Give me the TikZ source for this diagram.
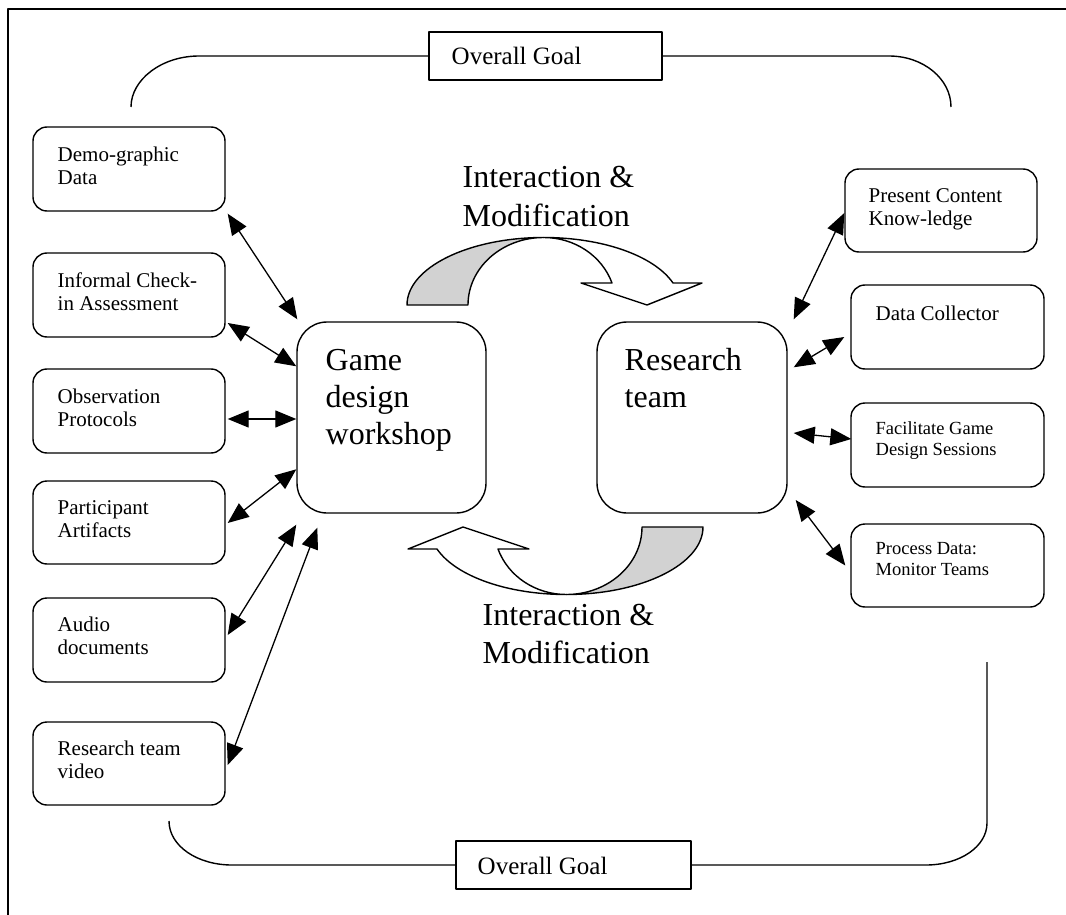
\documentclass[tikz,border=0pt]{standalone}
\usepackage{fontspec}
\setmainfont{Liberation Serif}
\usetikzlibrary{arrows.meta,calc}
\newcommand\twoln[2]{\vtop{\hbox{#1}\hbox{#2}}}
\newcommand\threeln[3]{\vtop{\hbox{#1}\hbox{#2}\hbox{#3}}}
\newcommand\myCurvedArrow{%
  \filldraw[fill=gray!35] (407,305) .. controls (407,267.9) and (468.2,237.5) .. (543.7,237.5)
     .. controls (501.9,237.5) and (468,267.7) .. (468,305) -- cycle;
  \filldraw[fill=white] (543.7,237.5) .. controls (602.2,237.5) and (654,255.5) .. (673,283)
     -- (702,283) -- (647,305) -- (581,283) -- (612,283)
     .. controls (601.9,255.7) and (574.6,237.5) .. (543.7,237.5) -- cycle;
}
\begin{document}
\begin{tikzpicture}[x=1pt,y=-1pt,line width=1.4pt,line join=round,
  sbox/.style={draw, rounded corners=14pt, minimum width=192pt, minimum height=84pt, inner sep=0pt},
  rbox/.style={draw, rounded corners=14pt, minimum width=193pt, minimum height=84pt, inner sep=0pt},
  mbox/.style={draw, rounded corners=30pt, minimum width=190pt, minimum height=191pt, inner sep=0pt},
  gbox/.style={draw, minimum width=234pt, minimum height=48pt, inner sep=0pt},
  tsmall/.style={anchor=base west, inner sep=0pt, font=\fontsize{21}{23.5}\selectfont},
  tsm2/.style={anchor=base west, inner sep=0pt, font=\fontsize{18.5}{21}\selectfont},
  tbig/.style={anchor=base west, inner sep=0pt, font=\fontsize{32}{37}\selectfont},
  tint/.style={anchor=base west, inner sep=0pt, font=\fontsize{32}{38.5}\selectfont},
  tgoal/.style={anchor=base west, inner sep=0pt, font=\fontsize{25}{30}\selectfont},
  biarr/.style={{Triangle[length=21pt,width=17pt]}-{Triangle[length=21pt,width=17pt]}, line width=1.3pt},
  bracket/.style={line width=1.4pt}]
\useasboundingbox (0,0) rectangle (1066,915);
% page frame
\draw[line width=2pt] (8,915) -- (8,9) -- (1066,9);

% left boxes
\node[sbox] (demo)  at (129,169) {};
\node[sbox] (inf)   at (129,295) {};
\node[sbox] (obs)   at (129,411) {};
\node[sbox, minimum height=83pt] (part)  at (129,522.5) {};
\node[sbox] (audio) at (129,640) {};
\node[sbox, minimum height=83pt] (video) at (129,763.5) {};
\node[tsmall] (demo-t)  at (57,161) {\twoln{Demo-graphic}{Data}};
\node[tsmall] (inf-t)   at (57,287) {\twoln{Informal Check-}{in Assessment}};
\node[tsmall] (obs-t)   at (57,403) {\twoln{Observation}{Protocols}};
\node[tsmall] (part-t)  at (57,514) {\twoln{Participant}{Artifacts}};
\node[tsmall] (audio-t) at (57,631) {\twoln{Audio}{documents}};
\node[tsmall] (video-t) at (57,755) {\twoln{Research team}{video}};

% right boxes
\node[rbox, minimum width=192pt, minimum height=83pt] (present) at (941,210.5) {};
\node[rbox] (collector) at (947.5,327) {};
\node[rbox] (facil)     at (947.5,445) {};
\node[rbox, minimum height=83pt] (process) at (947.5,565.5) {};
\node[tsmall] (present-t) at (868,202) {\twoln{Present Content}{Know-ledge}};
\node[tsmall] (collector-t) at (875,320) {Data Collector};
\node[tsm2] (facil-t) at (875,434) {\twoln{Facilitate Game}{Design Sessions}};
\node[tsm2] (process-t) at (875,554) {\twoln{Process Data:}{Monitor Teams}};

% main boxes
\node[mbox, minimum width=189pt] (game) at (391.5,417.5) {};
\node[mbox] (rt) at (692,417.5) {};
\node[tbig] (game-t) at (325,370) {\threeln{Game}{design}{workshop}};
\node[tbig] (rt-t) at (624,370) {\twoln{Research}{team}};

% goal boxes
\node[gbox, minimum width=233pt] (gtop) at (545.5,56) {};
\node[gbox, minimum width=235pt] (gbot) at (573.5,865) {};
\node[tgoal] (gtop-t) at (451,65) {Overall Goal};
\node[tgoal] (gbot-t) at (477,874) {Overall Goal};

% brackets
\coordinate (tl) at (131,107);
\coordinate (tr) at (951,107);
\coordinate (bl) at (169,821);
\coordinate (br) at (987,662);
\draw[bracket] (tl) .. controls +(0,-27.2) and +(-37.6,0) .. (199,56) -- (gtop.west);
\draw[bracket] (gtop.east) -- (889,56) .. controls +(34.2,0) and +(0,-28.2) .. (tr);
\draw[bracket] (bl) .. controls +(0,24.9) and +(-34.8,0) .. (232,865) -- (gbot.west);
\draw[bracket] (gbot.east) -- (926,865) .. controls +(33.7,0) and +(0,23.7) .. (987,823) -- (br);

% interaction labels
\node[tint] (int-top) at (462,188) {\twoln{Interaction \&}{Modification}};
\node[tint] (int-bot) at (482,625) {\twoln{Interaction \&}{Modification}};

% curved arrows
\myCurvedArrow
\begin{scope}[rotate around={180:(555,416)}]
\myCurvedArrow
\end{scope}

% left connectors
\draw[biarr] ($(demo.south east)+(2,2)$) -- ($(game.north west)+(1,-2)$);
\draw[biarr] ($(inf.east)+(2,28)$) -- ($(game.north west)+(0,45)$);
\draw[biarr] ($(obs.east)+(2,8)$) -- ($(game.west)+(0,1.5)$);
\draw[biarr] ($(part.east)+(2,0.5)$) -- ($(game.north west)+(0,148)$);
\draw[biarr] ($(audio.east)+(2,-5)$) -- ($(game.south west)+(0,11)$);
\draw[biarr] ($(video.east)+(2,1.5)$) -- ($(game.south west)+(21,14)$);

% right connectors
\draw[biarr] ($(rt.north east)+(6,-2)$) -- ($(present.west)+(0,2.5)$);
\draw[biarr] ($(rt.north east)+(6,46)$) -- ($(collector.west)+(-6,10)$);
\draw[biarr] ($(rt.east)+(6,15.5)$) -- ($(facil.west)+(1,-6)$);
\draw[biarr] ($(rt.east)+(8,82.5)$) -- ($(process.west)+(-5,0)$);
\end{tikzpicture}
\end{document}
